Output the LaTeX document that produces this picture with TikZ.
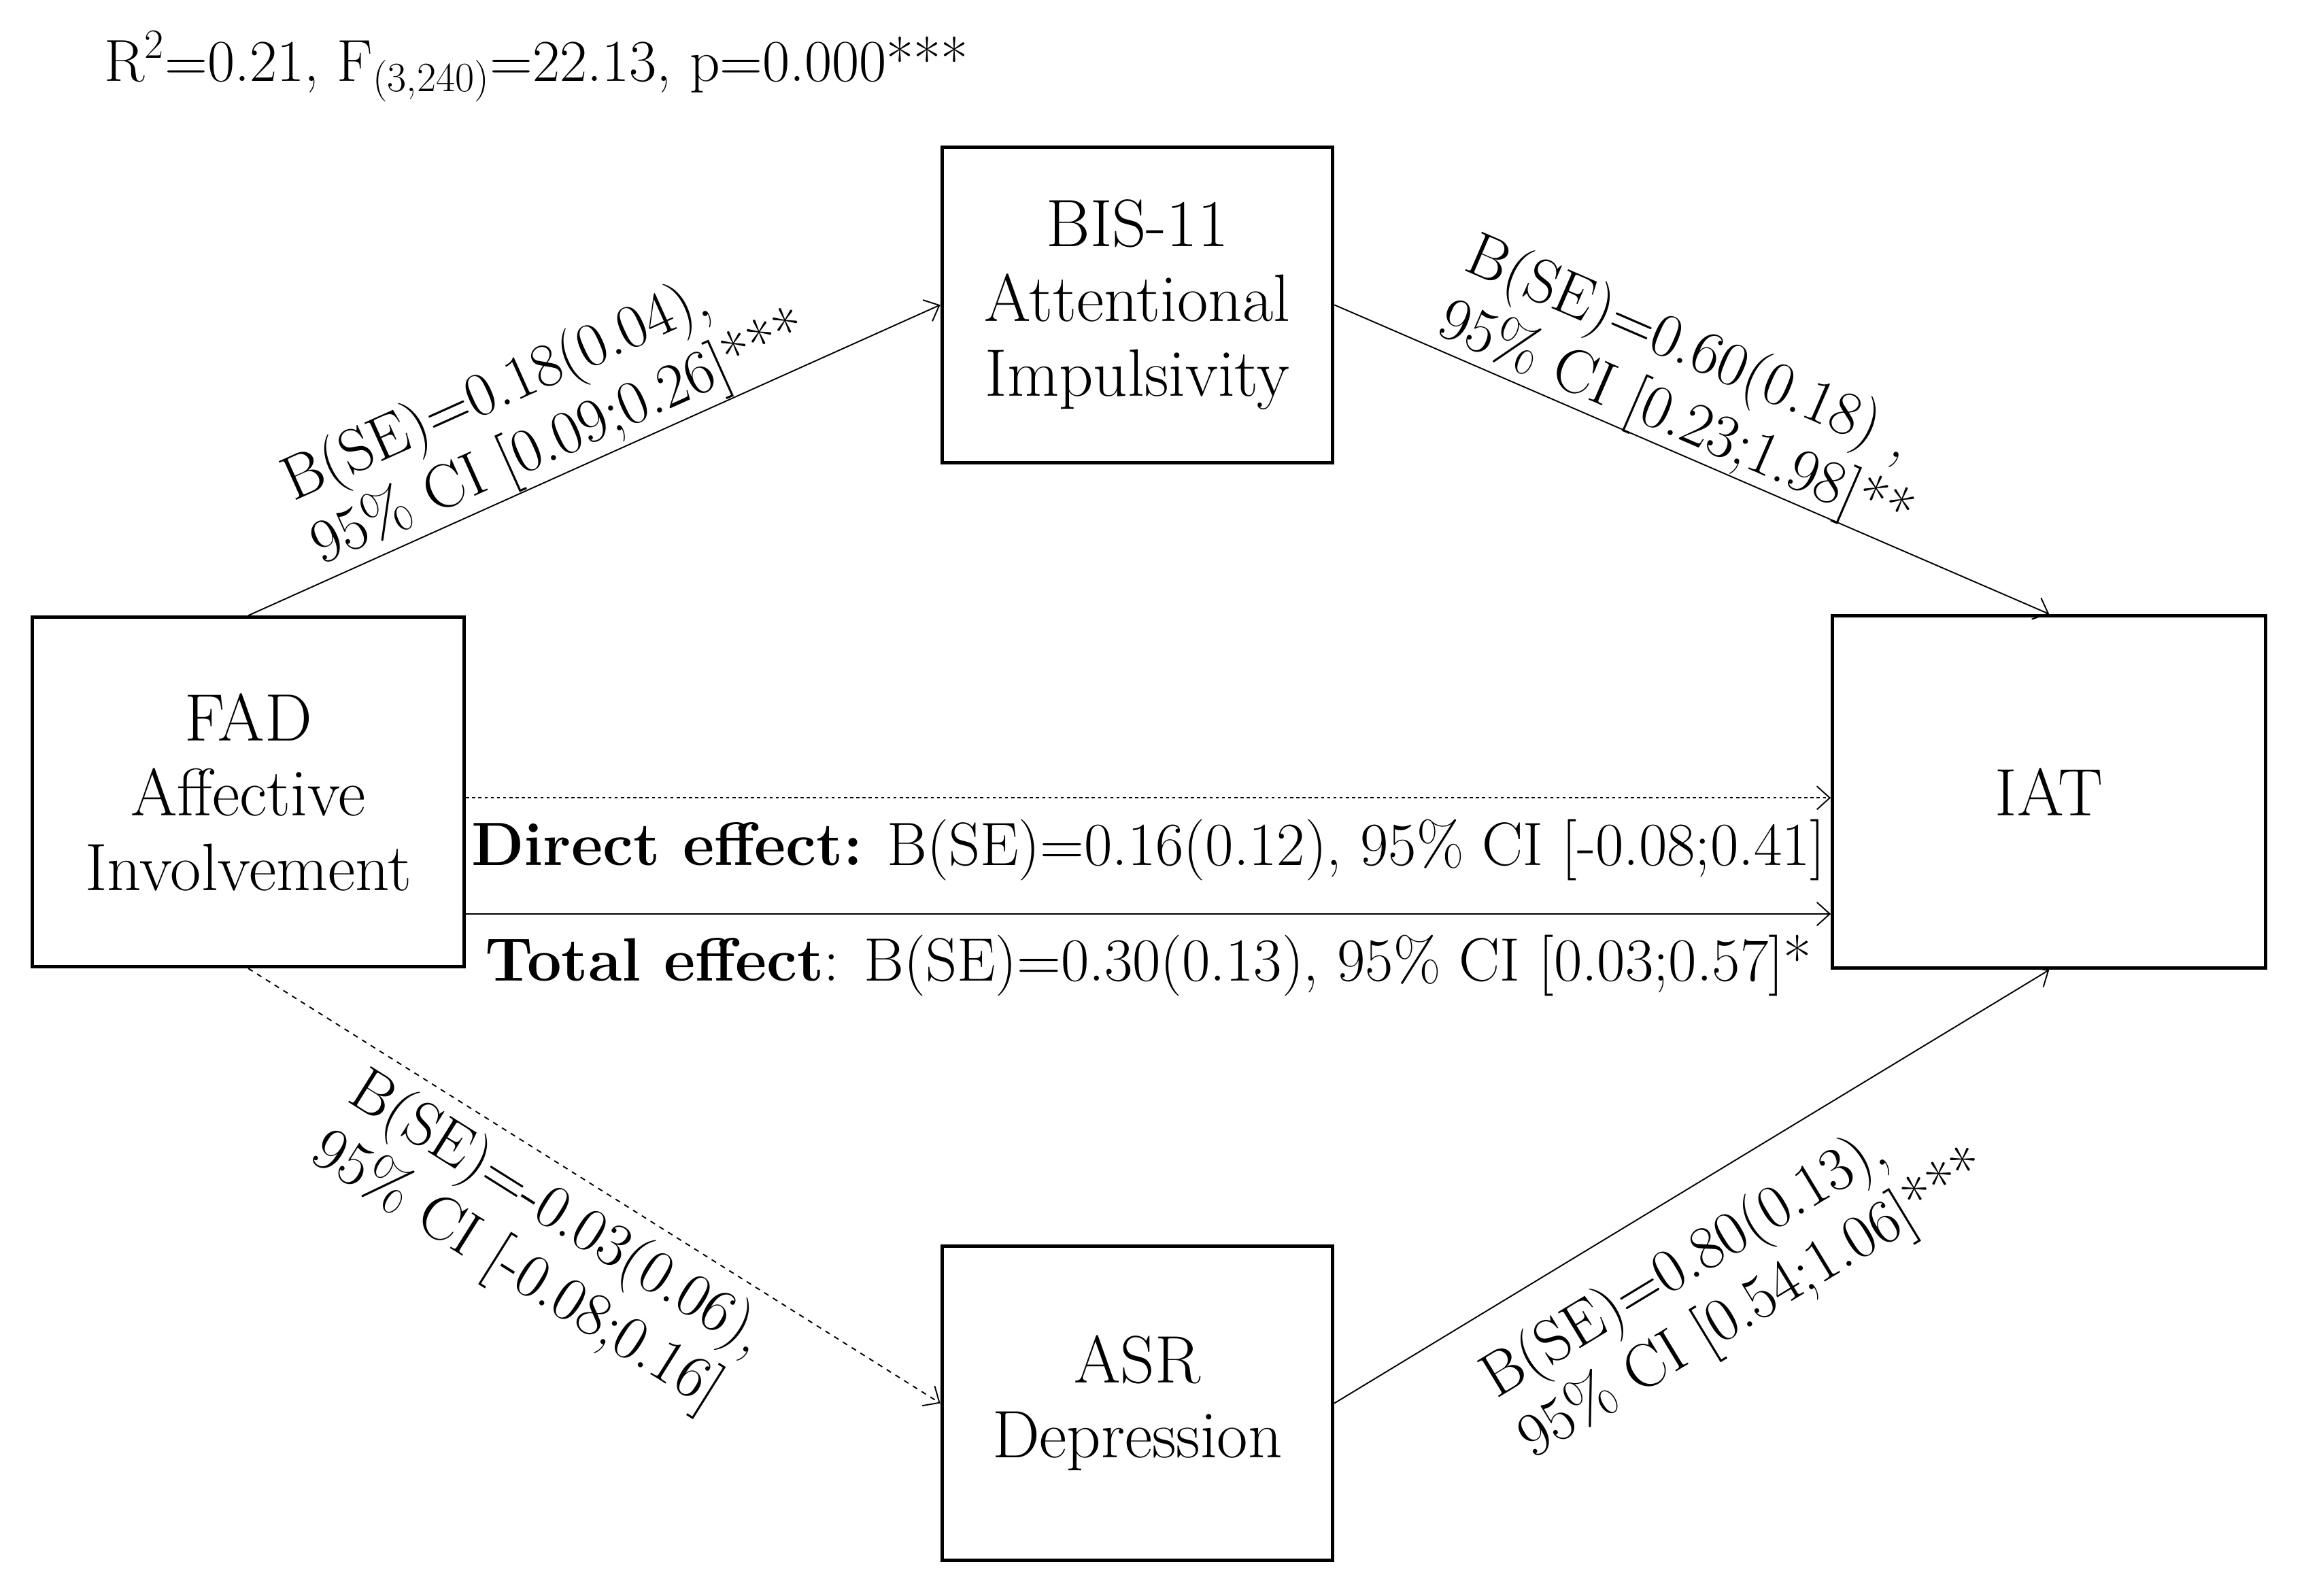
\documentclass[tikz,border=0pt]{standalone}
\usetikzlibrary{positioning,arrows.meta,calc}
\tikzset{
	mediation/.style={x=0.02cm,y=-0.02cm,>={Straight Barb[length=5pt,width=9pt]},
		line width=0.5pt},
	var/.style={rectangle,draw,line width=1.3pt,align=center,
		font=\fontsize{26}{29}\selectfont},
	effect/.style={->,line width=0.5pt},
	weak/.style={effect,dash pattern=on 2pt off 2pt},
	note/.style={font=\fontsize{23.7}{27}\selectfont,inner sep=3pt},
	coef/.style={sloped,align=left,font=\fontsize{24}{27}\selectfont,inner sep=3pt}
}

\begin{document}
\begin{tikzpicture}[mediation]
	\useasboundingbox (0,0) rectangle (1568,1086);
	
	\node[note,font=\fontsize{23}{27}\selectfont] (fit) at (365,45) {R\textsuperscript{2}=0.21, F\textsubscript{(3,240)}=22.13, p=0.000***};
	
	\node[var,minimum width=5.88cm,minimum height=4.76cm] (fad) at (169,539) {FAD\\Affective\\Involvement};
	\node[var,minimum width=5.9cm,minimum height=4.8cm] (iat) [right=18.58cm of fad] {IAT};
	\node[var,minimum width=5.32cm,minimum height=4.3cm] (bis) at (774,207.5) {BIS-11\\Attentional\\Impulsivity};
	\node[var,minimum width=5.32cm,minimum height=4.28cm] (asr) at (774,955) {ASR\\Depression};
	
	\draw[effect] (fad.north) -- node[coef,above=-3pt,pos=0.47] {B(SE)=0.18(0.04),\\95\% CI [0.09;0.26]***} (bis.west);
	\draw[effect] (bis.east) -- node[coef,above=-4pt,pos=0.46] {B(SE)=0.60(0.18) ,\\95\% CI [0.23;1.98]**} (iat.north);
	\draw[weak] (fad.south) -- node[coef,below=2pt,pos=0.48] {B(SE)=-0.03(0.06),\\95\% CI [-0.08;0.16]} (asr.west);
	\draw[effect] (asr.east) -- node[coef,below=10pt,pos=0.49] {B(SE)=0.80(0.13),\\95\% CI [0.54;1.06]***} (iat.south);
	
	\draw[effect,dash pattern=on 1.2pt off 1.2pt] ([yshift=-0.08cm]fad.east) -- node[note,below=5pt] {\textbf{Direct effect:} B(SE)=0.16(0.12), 95\% CI [-0.08;0.41]} ([yshift=-0.08cm]iat.west);
	\draw[effect] ([yshift=-1.66cm]fad.east) -- node[note,below=5pt] {\textbf{Total effect}: B(SE)=0.30(0.13), 95\% CI [0.03;0.57]*} ([yshift=-1.66cm]iat.west);
\end{tikzpicture}
\end{document}
